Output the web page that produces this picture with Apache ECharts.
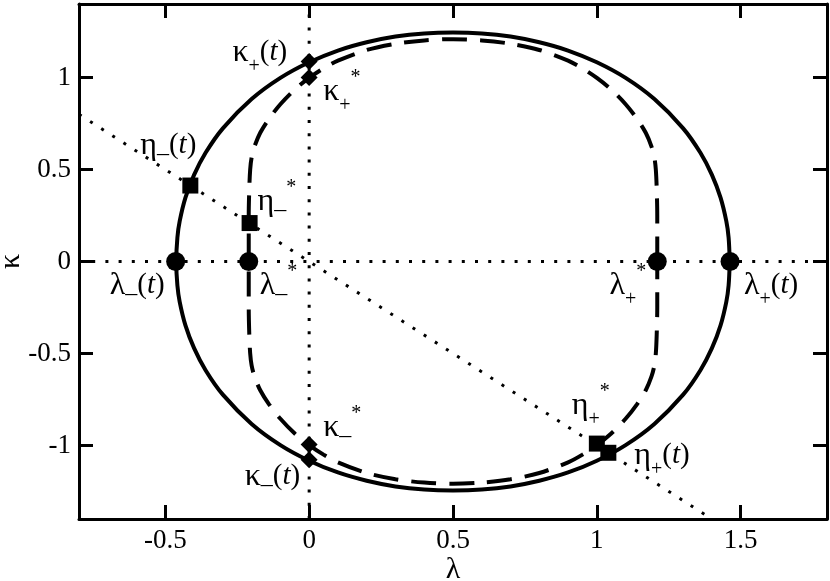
<!DOCTYPE html>
<html><head><meta charset="utf-8">
<script src="https://cdn.jsdelivr.net/npm/echarts@6/dist/echarts.min.js"></script>
<style>html,body{margin:0;padding:0;background:#fff}#c{width:830px;height:581px}</style>
</head><body><div id="c"></div>
<script>
// ---- data ----
const xTicks = [-0.5, 0, 0.5, 1, 1.5];
const yTicks = [-1, -0.5, 0, 0.5, 1];

const solidLambda = [1.462,1.458,1.45,1.43,1.40,1.36,1.30,1.20,1.10,1.00,0.90,0.80,0.70,0.60,0.50,0.40,0.30,0.20,0.10,0.00,-0.10,-0.20,-0.30,-0.36,-0.40,-0.43,-0.45,-0.458,-0.462,-0.458,-0.45,-0.43,-0.40,-0.36,-0.30,-0.20,-0.10,0.00,0.10,0.20,0.30,0.40,0.50,0.60,0.70,0.80,0.90,1.00,1.10,1.20,1.30,1.36,1.40,1.43,1.45,1.458,1.462];
const solidKappa = [0,0.130,0.219,0.347,0.471,0.591,0.724,0.883,0.998,1.083,1.147,1.192,1.223,1.240,1.245,1.240,1.223,1.192,1.147,1.083,0.998,0.883,0.724,0.591,0.471,0.347,0.219,0.130,0,-0.130,-0.219,-0.347,-0.471,-0.591,-0.724,-0.883,-0.998,-1.083,-1.147,-1.192,-1.223,-1.240,-1.245,-1.240,-1.223,-1.192,-1.147,-1.083,-0.998,-0.883,-0.724,-0.591,-0.471,-0.347,-0.219,-0.130,0];

const dashedLambda = [1.21,1.21,1.208,1.205,1.20,1.19,1.17,1.14,1.10,1.05,1.00,0.95,0.90,0.80,0.70,0.60,0.50,0.40,0.30,0.20,0.10,0.05,0.00,-0.05,-0.10,-0.14,-0.17,-0.19,-0.20,-0.205,-0.208,-0.21,-0.21,-0.21,-0.208,-0.205,-0.20,-0.19,-0.17,-0.14,-0.10,-0.05,0.00,0.05,0.10,0.20,0.30,0.40,0.50,0.60,0.70,0.80,0.90,0.95,1.00,1.05,1.10,1.14,1.17,1.19,1.20,1.205,1.208,1.21,1.21];
const dashedKappa = [0,0.25,0.4,0.5,0.565,0.625,0.70,0.775,0.855,0.935,0.998,1.05,1.092,1.150,1.184,1.202,1.209,1.202,1.184,1.150,1.092,1.05,0.998,0.935,0.855,0.775,0.70,0.625,0.565,0.5,0.4,0.25,0,-0.25,-0.4,-0.5,-0.565,-0.625,-0.70,-0.775,-0.855,-0.935,-0.998,-1.05,-1.092,-1.150,-1.184,-1.202,-1.209,-1.202,-1.184,-1.150,-1.092,-1.05,-0.998,-0.935,-0.855,-0.775,-0.70,-0.625,-0.565,-0.5,-0.4,-0.25,0];

const hLineLambda = [-0.8, 1.8];
const hLineKappa = [0, 0];
const vLineLambda = [0, 0];
const vLineKappa = [-1.4, 1.4];
const diagLambda = [-0.8, 1.4];
const diagKappa = [0.8, -1.4];

const circleLambda = [-0.464, -0.21, 1.21, 1.463];
const circleKappa = [0, 0, 0, 0];
const circleLabels = [['λ','_','(t)'], ['λ','_','*'], ['λ','+','*'], ['λ','+','(t)']];

const squareLambda = [-0.413, -0.207, 1.0, 1.04];
const squareKappa = [0.413, 0.209, -0.99, -1.04];
const squareLabels = [['η','_','(t)'], ['η','_','*'], ['η','+','*'], ['η','+','(t)']];

const diamondLambda = [0, 0, 0, 0];
const diamondKappa = [1.087, 1.0, -0.995, -1.078];
const diamondLabels = [['κ','+','(t)'], ['κ','+','*'], ['κ','_','*'], ['κ','_','(t)']];

// ---- label placement (style) : [dx, dy, align] relative to marker centre ----
const circlePlace = [[-11, 24, 'right'], [11, 24, 'left'], [-11, 24, 'right'], [14, 24, 'left']];
const squarePlace = [[6, -40, 'right'], [8, -21, 'left'], [13, -38, 'right'], [26, 3, 'left']];
const diamondPlace = [[-22, -9, 'right'], [14, 14, 'left'], [14, -17, 'left'], [-9, 17, 'right']];

const FONT = 'Liberation Serif';
const zip = (a, b) => a.map((v, i) => [v, b[i]]);

function richText(spec) {
  const [g, s, tail] = spec;
  let str = '{g|' + g + '}' + (s === '_' ? '{us|_}' : '{sb|+}');
  str += tail === '*' ? '{sp|*}' : '{n|(}{i|t}{n|)}';
  return str;
}
const richStyles = {
  g: { fontFamily: FONT, fontSize: 32, lineHeight: 48, verticalAlign: 'middle', color: '#000' },
  us: { fontFamily: FONT, fontSize: 24, lineHeight: 48, verticalAlign: 'middle', color: '#000' },
  sb: { fontFamily: FONT, fontSize: 20, lineHeight: 18, verticalAlign: 'bottom', color: '#000' },
  sp: { fontFamily: FONT, fontSize: 20, lineHeight: 20, verticalAlign: 'top', color: '#000' },
  n: { fontFamily: FONT, fontSize: 29, lineHeight: 48, verticalAlign: 'middle', color: '#000' },
  i: { fontFamily: FONT, fontSize: 29, lineHeight: 48, verticalAlign: 'middle', fontStyle: 'italic', color: '#000' }
};

function markerData(lams, kaps, labels, place, size) {
  return lams.map((l, i) => {
    const [dx, dy, align] = place[i];
    return {
      value: [l, kaps[i]],
      label: {
        show: true,
        position: align === 'right' ? 'left' : 'right',
        distance: 0,
        align: align,
        verticalAlign: 'middle',
        offset: align === 'right' ? [dx + size / 2, dy] : [dx - size / 2, dy],
        formatter: richText(labels[i]),
        rich: richStyles,
        color: '#000'
      }
    };
  });
}

const axisLineStyle = { show: true, onZero: false, lineStyle: { color: '#000', width: 3 } };
const tickStyle = (vals) => ({ show: true, inside: true, length: 14, customValues: vals, lineStyle: { color: '#000', width: 3 } });
const labelStyle = (vals) => ({ show: true, customValues: vals, fontFamily: FONT, fontSize: 27, color: '#000', margin: 8, formatter: v => String(v) });

const dotted = { color: '#000', width: 3, type: [3, 10.2], cap: 'butt' };
const markerStyle = { color: '#000', opacity: 1 };

const option = {
  animation: false,
  backgroundColor: '#fff',
  grid: { left: 79, top: 4, width: 748, height: 515, containLabel: false, outerBoundsMode: 'none' },
  xAxis: [
    { type: 'value', min: -0.8, max: 1.8, position: 'bottom', axisLine: axisLineStyle, axisTick: tickStyle(xTicks), axisLabel: labelStyle(xTicks), splitLine: { show: false },
      name: 'λ', nameLocation: 'middle', nameGap: 36, nameMoveOverlap: false, nameTextStyle: { fontFamily: FONT, fontSize: 30, color: '#000' } },
    { type: 'value', min: -0.8, max: 1.8, position: 'top', axisLine: axisLineStyle, axisTick: tickStyle(xTicks), axisLabel: { show: false }, splitLine: { show: false } }
  ],
  yAxis: [
    { type: 'value', min: -1.4, max: 1.4, position: 'left', axisLine: axisLineStyle, axisTick: tickStyle(yTicks), axisLabel: labelStyle(yTicks), splitLine: { show: false },
      name: 'κ', nameLocation: 'middle', nameGap: 53, nameRotate: 90, nameMoveOverlap: false, nameTextStyle: { fontFamily: FONT, fontSize: 30, color: '#000' } },
    { type: 'value', min: -1.4, max: 1.4, position: 'right', axisLine: axisLineStyle, axisTick: tickStyle(yTicks), axisLabel: { show: false }, splitLine: { show: false } }
  ],
  series: [
    { type: 'line', data: zip(hLineLambda, hLineKappa), symbol: 'none', lineStyle: dotted, silent: true },
    { type: 'line', data: zip(vLineLambda, vLineKappa), symbol: 'none', lineStyle: dotted, silent: true },
    { type: 'line', data: zip(diagLambda, diagKappa), symbol: 'none', lineStyle: dotted, silent: true },
    { type: 'line', data: zip(solidLambda, solidKappa), symbol: 'none', smooth: 0.3, lineStyle: { color: '#000', width: 4 }, silent: true },
    { type: 'line', data: zip(dashedLambda, dashedKappa), symbol: 'none', smooth: 0.3, lineStyle: { color: '#000', width: 4, type: [25, 13] }, silent: true },
    { type: 'scatter', symbol: 'circle', symbolSize: 19, itemStyle: markerStyle, data: markerData(circleLambda, circleKappa, circleLabels, circlePlace, 19), z: 5 },
    { type: 'scatter', symbol: 'rect', symbolSize: 16, itemStyle: markerStyle, data: markerData(squareLambda, squareKappa, squareLabels, squarePlace, 16), z: 5 },
    { type: 'scatter', symbol: 'diamond', symbolSize: 17, itemStyle: markerStyle, data: markerData(diamondLambda, diamondKappa, diamondLabels, diamondPlace, 17), z: 5 }
  ]
};
const chart = echarts.init(document.getElementById('c'), null, { renderer: 'canvas' });
chart.setOption(option);
</script>
</body></html>
